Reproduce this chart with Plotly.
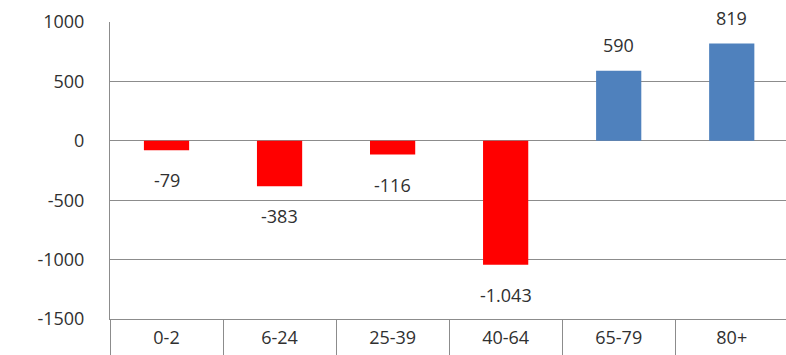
import plotly.graph_objects as go

categories = ["0-2", "6-24", "25-39", "40-64", "65-79", "80+"]
values = [-79, -383, -116, -1043, 590, 819]
y_ticks = [-1500, -1000, -500, 0, 500, 1000]

RED = "#FF0000"
BLUE = "#4F81BD"
GRID = "#8c8c8c"
FONT = "Open Sans"

colors = [RED if v < 0 else BLUE for v in values]

fig = go.Figure()
fig.add_trace(go.Bar(x=categories, y=values, marker=dict(color=colors, line_width=0),
                     hoverinfo="skip"))

def fmt(v):
    return f"{v:,}".replace(",", ".")

annotations = []
for c, v in zip(categories, values):
    annotations.append(dict(
        x=c, y=v, text=fmt(v), showarrow=False,
        yshift=(26 if v > 0 else -30), yanchor="middle", xanchor="center",
        font=dict(family=FONT, size=18, color="#303030"),
    ))

fig.update_layout(
    width=786, height=355,
    margin=dict(l=110, r=0, t=22, b=36),
    paper_bgcolor="white", plot_bgcolor="white",
    showlegend=False, bargap=0.6,
    annotations=annotations,
    font=dict(family=FONT, size=18, color="#303030"),
)
fig.update_xaxes(
    type="category", range=[-0.5, 5.48],
    showline=True, linecolor=GRID, linewidth=1,
    ticks="outside", tickson="boundaries", ticklen=36, tickcolor=GRID, tickwidth=1,
    ticklabelstandoff=2,
    tickfont=dict(family=FONT, size=18, color="#303030"),
    showgrid=False,
)
fig.update_yaxes(
    range=[-1500, 1000], tickvals=y_ticks, ticktext=[str(t) for t in y_ticks],
    showgrid=True, gridcolor=GRID, gridwidth=1,
    zeroline=True, zerolinecolor=GRID, zerolinewidth=1,
    showline=True, linecolor=GRID, linewidth=1,
    ticks="", ticklabelstandoff=21,
    tickfont=dict(family=FONT, size=18, color="#303030"),
)

fig.write_html("out.html")
